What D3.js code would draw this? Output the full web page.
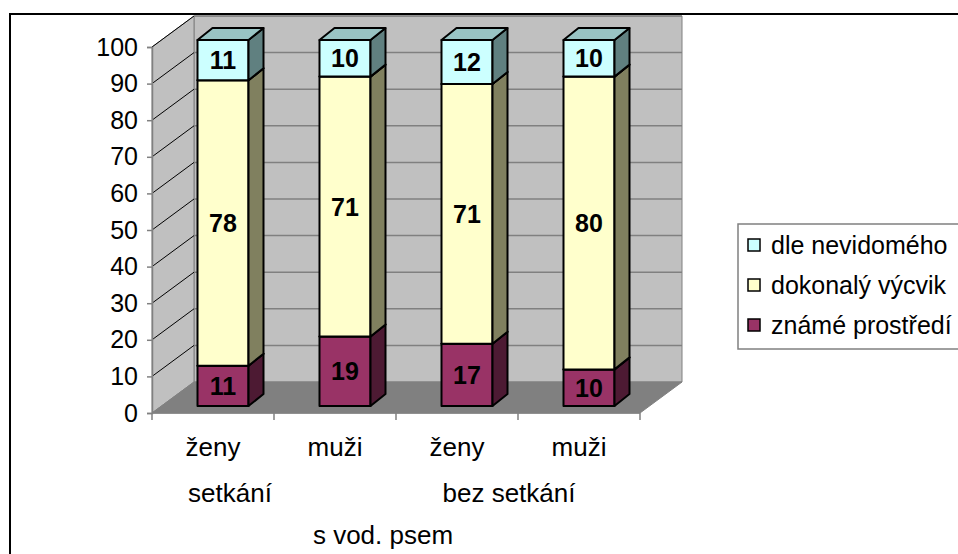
<!DOCTYPE html>
<html>
<head>
<meta charset="utf-8">
<style>
body { margin: 0; background: #fff; }
text { font-family: Arial, "Liberation Sans", sans-serif; fill: #000; }
.val { font-weight: bold; }
</style>
</head>
<body>
<svg width="958" height="554"></svg>
<script src="https://d3js.org/d3.v7.min.js"></script>
<script>

// data
var categories = ["ženy", "muži", "ženy", "muži"];
var groups = ["setkání", "bez setkání"];
var outerLabel = "s vod. psem";
var seriesNames = ["známé prostředí", "dokonalý výcvik", "dle nevidomého"];
var known = [11, 19, 17, 10];
var training = [78, 71, 71, 80];
var blindGuided = [11, 10, 12, 10];
var yTicks = [0, 10, 20, 30, 40, 50, 60, 70, 80, 90, 100];

var svg = d3.select("svg");

// front plane of the 3d box
var x = d3.scaleBand().domain(d3.range(categories.length)).range([152, 640]);
var y = d3.scaleLinear().domain([0, 100]).range([413, 47]);
var depth = {dx: 42, dy: -31};        // wall depth
var barOff = {dx: 10, dy: -7};        // bar front face inside box
var barDepth = {dx: 15, dy: -12};
var barW = 51;
var fs = "25px", catFs = "26px";

var front = ["#993366", "#FFFFCC", "#CCFFFF"];
var side = ["#4D1A33", "#80805F", "#608080"];
var top_ = ["#73264D", "#BFBF99", "#99C4C4"];

// outer chart frame
svg.append("rect").attr("x", 10).attr("y", 14).attr("width", 960).attr("height", 560)
  .attr("fill", "#fff").attr("stroke", "#000").attr("stroke-width", 2);

var x0 = x.range()[0], x1 = x.range()[1], y0 = y(0), y100 = y(100);
function pts(a) { return a.map(function(p) { return p.join(","); }).join(" "); }

// back wall
svg.append("polygon")
  .attr("points", pts([[x0 + depth.dx, y100 + depth.dy], [x1 + depth.dx, y100 + depth.dy],
                       [x1 + depth.dx, y0 + depth.dy], [x0 + depth.dx, y0 + depth.dy]]))
  .attr("fill", "#C0C0C0").attr("stroke", "#808080");
// left wall
svg.append("polygon")
  .attr("points", pts([[x0, y100], [x0 + depth.dx, y100 + depth.dy],
                       [x0 + depth.dx, y0 + depth.dy], [x0, y0]]))
  .attr("fill", "#C0C0C0").attr("stroke", "#808080");
// floor
svg.append("polygon")
  .attr("points", pts([[x0, y0], [x1, y0], [x1 + depth.dx, y0 + depth.dy], [x0 + depth.dx, y0 + depth.dy]]))
  .attr("fill", "#808080").attr("stroke", "#808080");

// gridlines
svg.append("g").selectAll("line").data(yTicks.slice(1)).enter().append("line")
  .attr("x1", x0 + depth.dx).attr("x2", x1 + depth.dx)
  .attr("y1", function(d) { return y(d) + depth.dy; })
  .attr("y2", function(d) { return y(d) + depth.dy; })
  .attr("stroke", "#808080").attr("stroke-width", 1.5);
svg.append("g").selectAll("line").data(yTicks.slice(1)).enter().append("line")
  .attr("x1", x0).attr("x2", x0 + depth.dx)
  .attr("y1", function(d) { return y(d); })
  .attr("y2", function(d) { return y(d) + depth.dy; })
  .attr("stroke", "#000").attr("stroke-width", 1);

// stacked bars
var stackData = categories.map(function(c, i) {
  return {i: i, vals: [known[i], training[i], blindGuided[i]]};
});
var bars = svg.append("g");
stackData.forEach(function(d) {
  var bx = x(d.i) + x.bandwidth() / 2 - barW / 2 + barOff.dx;
  var base = 0;
  d.vals.forEach(function(v, s) {
    var yb = y(base) + barOff.dy, yt = y(base + v) + barOff.dy;
    var g = bars.append("g").attr("stroke", "#000").attr("stroke-width", 2).attr("stroke-linejoin", "round");
    g.append("rect").attr("x", bx).attr("y", yt).attr("width", barW).attr("height", yb - yt)
      .attr("fill", front[s]);
    g.append("polygon")
      .attr("points", pts([[bx + barW, yt], [bx + barW + barDepth.dx, yt + barDepth.dy],
                           [bx + barW + barDepth.dx, yb + barDepth.dy], [bx + barW, yb]]))
      .attr("fill", side[s]);
    g.append("polygon")
      .attr("points", pts([[bx, yt], [bx + barDepth.dx, yt + barDepth.dy],
                           [bx + barW + barDepth.dx, yt + barDepth.dy], [bx + barW, yt]]))
      .attr("fill", top_[s]);
    bars.append("text").attr("class", "val")
      .attr("x", bx + barW / 2).attr("y", (yt + yb) / 2)
      .attr("dy", "0.36em").attr("text-anchor", "middle")
      .style("font-size", fs).text(v);
    base += v;
  });
});

// y axis
var yAxis = d3.axisLeft(y).tickValues(yTicks).tickSize(5).tickPadding(9);
var ya = svg.append("g").attr("transform", "translate(" + x0 + ",0)").call(yAxis);
ya.select(".domain").attr("stroke", "#808080").attr("stroke-width", 1.5);
ya.selectAll(".tick line").attr("stroke", "#808080").attr("stroke-width", 1.5);
ya.selectAll("text").style("font-size", fs).attr("font-family", null);

// x axis line with tick marks between categories
svg.append("line").attr("x1", x0).attr("x2", x1).attr("y1", y0).attr("y2", y0)
  .attr("stroke", "#808080").attr("stroke-width", 1.5);
svg.append("g").selectAll("line").data(d3.range(categories.length + 1)).enter().append("line")
  .attr("x1", function(i) { return x0 + i * x.step(); })
  .attr("x2", function(i) { return x0 + i * x.step(); })
  .attr("y1", y0).attr("y2", y0 + 7)
  .attr("stroke", "#808080").attr("stroke-width", 1.5);

// category labels
svg.append("g").selectAll("text").data(categories).enter().append("text")
  .attr("x", function(d, i) { return x(i) + x.bandwidth() / 2; })
  .attr("y", 456).attr("text-anchor", "middle").style("font-size", catFs)
  .text(function(d) { return d; });
var groupShift = [-44, -9];
svg.append("g").selectAll("text").data(groups).enter().append("text")
  .attr("x", function(d, i) { return x(i * 2) + x.step() + groupShift[i]; })
  .attr("y", 502).attr("text-anchor", "middle").style("font-size", catFs)
  .text(function(d) { return d; });
svg.append("text").attr("x", (x0 + x1) / 2 - 13).attr("y", 544)
  .attr("text-anchor", "middle").style("font-size", catFs).text(outerLabel);

// legend
var lg = svg.append("g").attr("transform", "translate(738,224)");
lg.append("rect").attr("width", 240).attr("height", 125).attr("fill", "#fff")
  .attr("stroke", "#808080").attr("stroke-width", 1.5);
var order = [2, 1, 0];
order.forEach(function(s, k) {
  var ry = 21 + k * 40;
  lg.append("rect").attr("x", 10).attr("y", ry - 6).attr("width", 12).attr("height", 12)
    .attr("fill", front[s]).attr("stroke", "#000").attr("stroke-width", 1.5);
  lg.append("text").attr("x", 33).attr("y", ry).attr("dy", "0.36em")
    .style("font-size", fs).text(seriesNames[s]);
});

</script>
</body>
</html>
